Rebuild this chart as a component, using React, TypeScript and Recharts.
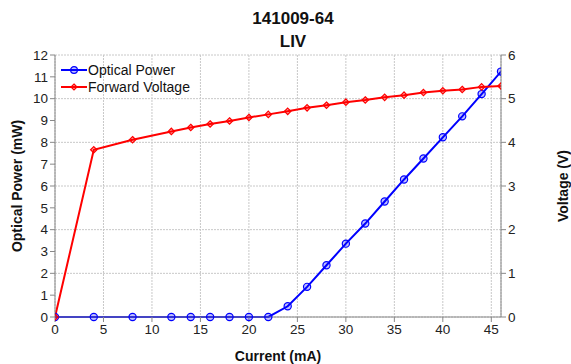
import React from "react";
import { LineChart, Line, XAxis, YAxis, CartesianGrid } from "recharts";

// LIV data
const current = [0, 4, 8, 12, 14, 16, 18, 20, 22, 24, 26, 28, 30, 32, 34, 36, 38, 40, 42, 44, 46];
const opticalPower = [0, 0, 0, 0, 0, 0, 0, 0, 0, 0.49, 1.38, 2.37, 3.36, 4.28, 5.29, 6.3, 7.26, 8.23, 9.19, 10.21, 11.24];
const forwardVoltage = [0, 3.83, 4.06, 4.25, 4.34, 4.42, 4.49, 4.57, 4.64, 4.71, 4.79, 4.85, 4.92, 4.97, 5.03, 5.08, 5.14, 5.18, 5.21, 5.27, 5.29];

const xTicks = [0, 5, 10, 15, 20, 25, 30, 35, 40, 45];
const powerTicks = [0, 1, 2, 3, 4, 5, 6, 7, 8, 9, 10, 11, 12];
const voltageTicks = [0, 1, 2, 3, 4, 5, 6];

const data = current.map((c, i) => ({
  current: c,
  power: opticalPower[i],
  voltage: forwardVoltage[i],
}));

const BLUE = "#0000ff";
const RED = "#ff0000";
const FONT = "'Liberation Sans', Arial, sans-serif";

const CircleDot = (props: any) => {
  const { cx, cy, index } = props;
  if (cx == null || cy == null) return null;
  return <circle key={"c" + index} cx={cx} cy={cy} r={3.6} stroke={BLUE} strokeWidth={1.2} fill="rgba(0,0,255,0.25)" />;
};

const DiamondDot = (props: any) => {
  const { cx, cy, index } = props;
  if (cx == null || cy == null) return null;
  const s = 3.2;
  return (
    <polygon
      key={"d" + index}
      points={`${cx},${cy - s} ${cx + s},${cy} ${cx},${cy + s} ${cx - s},${cy}`}
      stroke={RED}
      strokeWidth={1.2}
      fill="rgba(255,0,0,0.3)"
    />
  );
};

// legend drawn as an overlay so it doesn't eat into the plot area
const LegendBox = () => (
  <svg width={170} height={36} style={{ position: "absolute", left: 59, top: 62 }}>
    <line x1={2} y1={8} x2={28} y2={8} stroke={BLUE} strokeWidth={2} />
    <circle cx={15} cy={8} r={3.4} stroke={BLUE} strokeWidth={1.2} fill="rgba(0,0,255,0.25)" />
    <text x={29} y={13} fontSize={14} fill="#111" fontFamily={FONT}>Optical Power</text>
    <line x1={2} y1={25} x2={28} y2={25} stroke={RED} strokeWidth={2} />
    <polygon points="15,22 18,25 15,28 12,25" stroke={RED} strokeWidth={1.2} fill="rgba(255,0,0,0.3)" />
    <text x={29} y={30} fontSize={14} fill="#111" fontFamily={FONT}>Forward Voltage</text>
  </svg>
);

const tickStyle = { fontSize: 13.5, fill: "#222", fontFamily: FONT };

export default function App() {
  return (
    <div style={{ position: "absolute", left: 0, top: 0, width: 571, height: 364, background: "#fff", fontFamily: FONT }}>
      <div style={{ position: "absolute", left: 0, width: 586, top: 7, textAlign: "center", fontWeight: "bold", fontSize: 17, lineHeight: "23px", color: "#111" }}>
        141009-64
        <br />
        LIV
      </div>
      <LineChart
        width={571}
        height={364}
        data={data}
        margin={{ top: 55, right: 30, bottom: 0, left: 0 }}
        style={{ fontFamily: FONT }}
      >
        <CartesianGrid yAxisId="left" stroke="#c8c8c8" strokeDasharray="2 1" />
        <XAxis
          dataKey="current"
          type="number"
          domain={[0, 46]}
          ticks={xTicks}
          allowDataOverflow
          height={47}
          stroke="#888"
          tick={tickStyle}
          tickSize={5}
          label={{ value: "Current (mA)", position: "insideBottom", offset: 3, fontSize: 14, fontWeight: "bold", fill: "#111" }}
        />
        <YAxis
          yAxisId="left"
          orientation="left"
          domain={[0, 12]}
          ticks={powerTicks}
          width={55}
          stroke="#888"
          tick={tickStyle}
          tickSize={5}
          label={{ value: "Optical Power (mW)", angle: -90, position: "center", dx: -10, fontSize: 14, fontWeight: "bold", fill: "#111" }}
        />
        <YAxis
          yAxisId="right"
          orientation="right"
          domain={[0, 6]}
          ticks={voltageTicks}
          width={40}
          stroke="#888"
          tick={tickStyle}
          tickSize={5}
          label={{ value: "Voltage (V)", angle: -90, position: "center", dx: 42, fontSize: 14, fontWeight: "bold", fill: "#111" }}
        />
        <Line
          yAxisId="left"
          dataKey="power"
          stroke={BLUE}
          strokeWidth={2}
          dot={CircleDot}
          activeDot={false}
          isAnimationActive={false}
        />
        <Line
          yAxisId="right"
          dataKey="voltage"
          stroke={RED}
          strokeWidth={2}
          dot={DiamondDot}
          activeDot={false}
          isAnimationActive={false}
        />
      </LineChart>
      <LegendBox />
    </div>
  );
}
